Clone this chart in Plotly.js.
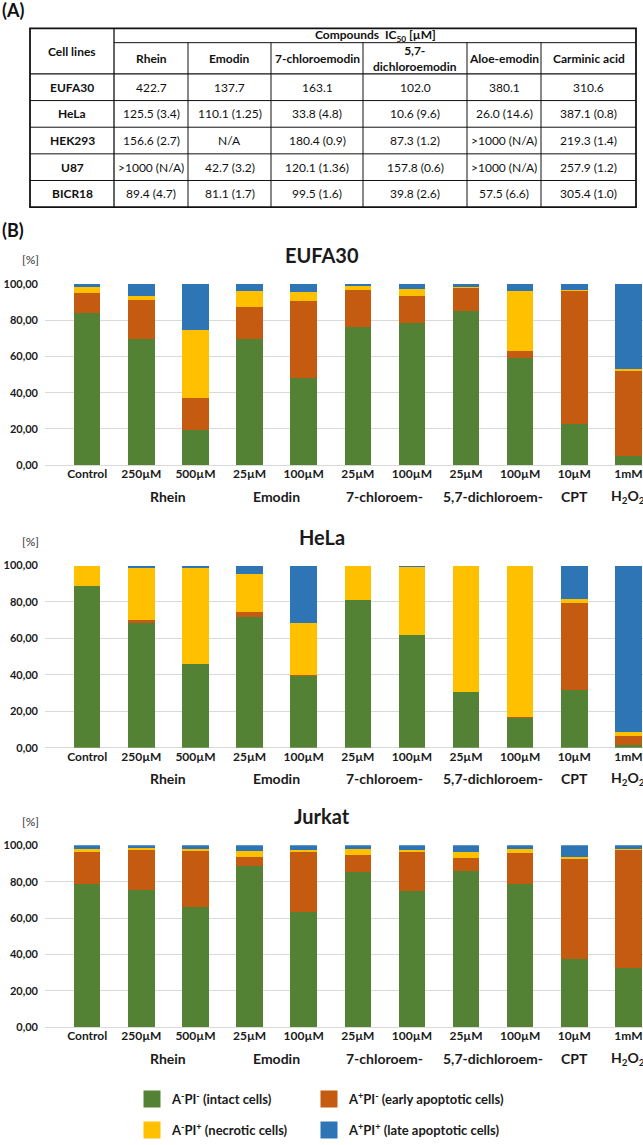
<!DOCTYPE html>
<html>
<head>
<meta charset="utf-8">
<script src="https://cdn.plot.ly/plotly-3.0.1.min.js"></script>
<style>
html,body{margin:0;padding:0;background:#fff;overflow:hidden}
#chart{width:643px;height:1145px}
</style>
</head>
<body>
<div id="chart"></div>
<script>
// ---------- (A) table data ----------
const tableCompounds = ['Rhein', 'Emodin', '7-chloroemodin', '5,7-<br>dichloroemodin', 'Aloe-emodin', 'Carminic acid'];
const tableCellLines = ['EUFA30', 'HeLa', 'HEK293', 'U87', 'BICR18'];
const ic50EUFA30 = ['422.7', '137.7', '163.1', '102.0', '380.1', '310.6'];
const ic50HeLa = ['125.5 (3.4)', '110.1 (1.25)', '33.8 (4.8)', '10.6 (9.6)', '26.0 (14.6)', '387.1 (0.8)'];
const ic50HEK293 = ['156.6 (2.7)', 'N/A', '180.4 (0.9)', '87.3 (1.2)', '>1000 (N/A)', '219.3 (1.4)'];
const ic50U87 = ['>1000 (N/A)', '42.7 (3.2)', '120.1 (1.36)', '157.8 (0.6)', '>1000 (N/A)', '257.9 (1.2)'];
const ic50BICR18 = ['89.4 (4.7)', '81.1 (1.7)', '99.5 (1.6)', '39.8 (2.6)', '57.5 (6.6)', '305.4 (1.0)'];

// ---------- (B) chart data ----------
const conditions = ['Control', '250µM', '500µM', '25µM', '100µM', '25µM', '100µM', '25µM', '100µM', '10µM', '1mM'];
const groupLabels = ['Rhein', 'Emodin', '7-chloroem-', '5,7-dichloroem-', 'CPT', 'H<sub>2</sub>O<sub>2</sub>'];
const groupMembers = [[1, 2], [3, 4], [5, 6], [7, 8], [9], [10]];
const panelNames = ['EUFA30', 'HeLa', 'Jurkat'];
const stateNames = ['A<sup>-</sup>PI<sup>-</sup> (intact cells)', 'A<sup>+</sup>PI<sup>-</sup> (early apoptotic cells)',
                    'A<sup>-</sup>PI<sup>+</sup> (necrotic cells)', 'A<sup>+</sup>PI<sup>+</sup> (late apoptotic cells)'];

const eufa30Intact   = [83.9, 69.4, 19.7, 69.4, 48.2, 76.1, 78.2, 85.0, 59.2, 22.8, 4.9];
const eufa30Early    = [11.0, 21.7, 17.6, 17.6, 42.2, 20.6, 15.1, 12.4, 3.6, 73.3, 47.2];
const eufa30Necrotic = [3.2, 1.9, 37.0, 9.1, 4.8, 1.8, 3.7, 0.7, 33.3, 0.5, 0.9];
const eufa30Late     = [1.9, 7.0, 25.7, 3.9, 4.8, 1.5, 3.0, 1.9, 3.9, 3.4, 47.0];

const helaIntact   = [89.0, 68.7, 45.7, 71.8, 39.3, 81.0, 61.6, 30.3, 16.5, 31.4, 1.5];
const helaEarly    = [0.0, 1.3, 0.3, 2.4, 0.6, 0.0, 0.2, 0.1, 0.1, 47.8, 4.7];
const helaNecrotic = [11.0, 28.9, 52.4, 21.4, 28.7, 18.8, 37.3, 69.2, 83.0, 2.2, 2.2];
const helaLate     = [0.0, 1.1, 1.6, 4.4, 31.4, 0.2, 0.9, 0.4, 0.4, 18.6, 91.6];

const jurkatIntact   = [78.6, 75.7, 66.0, 88.8, 63.6, 85.4, 74.8, 85.7, 78.6, 37.5, 32.5];
const jurkatEarly    = [17.6, 21.6, 30.9, 4.6, 32.6, 9.1, 21.4, 7.4, 17.2, 55.2, 65.1];
const jurkatNecrotic = [2.0, 1.1, 1.1, 3.5, 1.1, 3.3, 1.2, 3.4, 2.0, 0.9, 0.4];
const jurkatLate     = [1.8, 1.6, 2.0, 3.1, 2.7, 2.2, 2.6, 3.5, 2.2, 6.4, 2.0];

// ---------- styling / geometry ----------
const W = 643, H = 1145;
const FONT = 'Lato, "Open Sans", sans-serif';
const stateColors = ['#548235', '#C55A11', '#FFC000', '#2E75B6'];
const py = px => 1 - px / H;
const nb = s => s.replace(/ /g, '\u00a0');

const panelSeries = [
  [eufa30Intact, eufa30Early, eufa30Necrotic, eufa30Late],
  [helaIntact, helaEarly, helaNecrotic, helaLate],
  [jurkatIntact, jurkatEarly, jurkatNecrotic, jurkatLate]
];
const panelBox = [[284, 465.7], [566, 748.3], [846, 1028.3]];
const idx = conditions.map((_, i) => i);

const data = [];
const annotations = [];
const shapes = [];
const legendFont = {family: FONT, size: 13, weight: 'bold', color: '#1a1a1a'};
const layout = {
  width: W, height: H,
  margin: {l: 0, r: 0, t: 0, b: 0},
  paper_bgcolor: '#fff', plot_bgcolor: 'rgba(0,0,0,0)',
  barmode: 'stack',
  separators: ',.',
  font: {family: FONT, color: '#1a1a1a'},
  showlegend: true,
  legend: {orientation: 'h', x: 132 / W, xanchor: 'left', y: py(1099), yanchor: 'middle',
           font: legendFont, bgcolor: 'rgba(0,0,0,0)', traceorder: 'normal'},
  legend2: {orientation: 'h', x: 132 / W, xanchor: 'left', y: py(1131), yanchor: 'middle',
            font: legendFont, bgcolor: 'rgba(0,0,0,0)', traceorder: 'normal'},
  annotations: annotations,
  shapes: shapes
};

panelNames.forEach((name, p) => {
  const ax = p === 0 ? '' : String(p + 1);
  const [top, bottom] = panelBox[p];
  panelSeries[p].forEach((series, k) => {
    data.push({
      type: 'bar', x: idx, y: series, name: nb(stateNames[k]),
      marker: {color: stateColors[k], line: {width: 0}},
      width: 0.49, xaxis: 'x' + ax, yaxis: 'y' + ax,
      showlegend: false, hoverinfo: 'skip'
    });
  });
  layout['xaxis' + ax] = {
    domain: [45 / W, 1], range: [-0.78, 10.27], anchor: 'y' + ax,
    tickmode: 'array', tickvals: idx, ticktext: conditions,
    showgrid: false, zeroline: false, showline: false, ticks: '',
    tickfont: {family: FONT, size: 12, weight: 'bold', color: '#1a1a1a'},
    fixedrange: true
  };
  layout['yaxis' + ax] = {
    domain: [py(bottom), py(top)], range: [0, 100], anchor: 'x' + ax,
    tickmode: 'array', tickvals: [0, 20, 40, 60, 80, 100], tickformat: '.2f',
    showgrid: true, gridcolor: '#d9d9d9', gridwidth: 1,
    zeroline: true, zerolinecolor: '#d9d9d9', zerolinewidth: 1,
    showline: false, ticks: '', ticklabelstandoff: 6,
    tickfont: {family: FONT, size: 11, weight: 'bold', color: '#1a1a1a'},
    fixedrange: true
  };
  annotations.push({
    text: name, xref: 'paper', x: 0.5, yref: 'y' + ax + ' domain', y: 1, yshift: 29,
    xanchor: 'center', yanchor: 'middle', showarrow: false,
    font: {family: FONT, size: 20, weight: 'bold', color: '#1a1a1a'}
  });
  annotations.push({
    text: '[%]', xref: 'paper', x: 30 / W, yref: 'y' + ax + ' domain', y: 1, yshift: 24,
    xanchor: 'center', yanchor: 'middle', showarrow: false,
    font: {family: FONT, size: 12, color: '#333'}
  });
  groupLabels.forEach((g, gi) => {
    const m = groupMembers[gi];
    const cx = m.reduce((a, b) => a + b, 0) / m.length;
    annotations.push({
      text: g, xref: 'x' + ax, x: cx, yref: 'y' + ax + ' domain', y: 0, yshift: -31,
      xanchor: 'center', yanchor: 'middle', showarrow: false,
      font: {family: FONT, size: 14, weight: 'bold', color: '#1a1a1a'}
    });
  });
});

// ---------- (A) table drawn on a hidden axis pair ----------
const colWidths = [84, 74, 83, 92, 104, 74, 95];
const headTopH = 14.4, headBotH = 31.3, rowH = 26.66;
const colEdges = [0];
colWidths.forEach(w => colEdges.push(colEdges[colEdges.length - 1] + w));
const tableW = colEdges[colEdges.length - 1];
const headerH = headTopH + headBotH;
const tableH = headerH + rowH * tableCellLines.length;
const tableLeft = 30, tableTop = 28.3;
layout.xaxis4 = {domain: [(tableLeft - 2) / W, (tableLeft + tableW + 2) / W], range: [-2, tableW + 2],
                 visible: false, fixedrange: true, anchor: 'y4'};
layout.yaxis4 = {domain: [py(tableTop + tableH + 2), py(tableTop - 2)], range: [tableH + 2, -2],
                 visible: false, fixedrange: true, anchor: 'x4'};

// legend keys: one swatch per state, outside the hidden table axis range so only the legend shows them
stateNames.forEach((nm, k) => {
  data.push({
    type: 'bar', x: [-1000], y: [1], name: nb(nm), xaxis: 'x4', yaxis: 'y4',
    marker: {color: stateColors[k], line: {color: stateColors[k], width: 5}},
    showlegend: true, legend: k < 2 ? 'legend' : 'legend2',
    legendwidth: k % 2 === 0 ? 132 : 230, hoverinfo: 'skip'
  });
});

const tLine = (x0, y0, x1, y1, w) => shapes.push({type: 'line', xref: 'x4', yref: 'y4', x0, y0, x1, y1,
  line: {color: '#111', width: w}, layer: 'above'});
tLine(colEdges[1], headTopH, tableW, headTopH, 1);
for (let r = 0; r < tableCellLines.length; r++) {
  const y = headerH + r * rowH;
  tLine(0, y, tableW, y, r === 0 ? 1.3 : 1);
}
tLine(colEdges[1], 0, colEdges[1], tableH, 1.3);
for (let c = 2; c < colWidths.length; c++) tLine(colEdges[c], headTopH, colEdges[c], tableH, 1);
shapes.push({type: 'rect', xref: 'x4', yref: 'y4', x0: 0, y0: 0, x1: tableW, y1: tableH,
             line: {color: '#111', width: 1.8}, fillcolor: 'rgba(0,0,0,0)', layer: 'above'});

const boldFont = {family: FONT, size: 12, weight: 'bold', color: '#111'};
const plainFont = {family: FONT, size: 12, color: '#111'};
const tText = (text, x, y, bold) => annotations.push({
  text: nb(text), xref: 'x4', yref: 'y4', x, y, xanchor: 'center', yanchor: 'middle', showarrow: false,
  font: bold ? boldFont : plainFont
});
const colCenter = c => (colEdges[c] + colEdges[c + 1]) / 2;
tText('Cell lines', colCenter(0), headerH / 2, true);
tText('Compounds  IC<sub>50</sub> [µM]', (colEdges[1] + tableW) / 2, headTopH / 2 + 0.5, true);
tableCompounds.forEach((c, i) => tText(c, colCenter(i + 1), headTopH + headBotH / 2, true));
const tableRows = [ic50EUFA30, ic50HeLa, ic50HEK293, ic50U87, ic50BICR18];
tableCellLines.forEach((cl, r) => {
  const yc = headerH + r * rowH + rowH / 2;
  tText(cl, colCenter(0), yc, true);
  tableRows[r].forEach((v, c) => tText(v, colCenter(c + 1), yc, false));
});

annotations.push({text: '(A)', xref: 'paper', x: 0, yref: 'paper', y: py(10), xanchor: 'left', yanchor: 'middle',
                  showarrow: false, font: {family: FONT, size: 18, weight: 'bold', color: '#111'}});
annotations.push({text: '(B)', xref: 'paper', x: 0, yref: 'paper', y: py(230), xanchor: 'left', yanchor: 'middle',
                  showarrow: false, font: {family: FONT, size: 18, weight: 'bold', color: '#111'}});

Plotly.newPlot('chart', data, layout, {staticPlot: true, displayModeBar: false});
</script>
</body>
</html>
